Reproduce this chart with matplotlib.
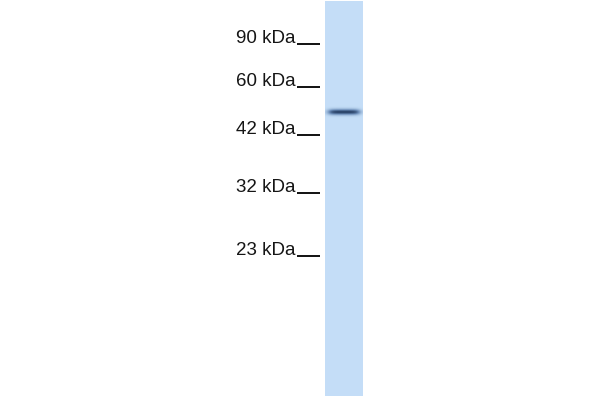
import numpy as np
import matplotlib
matplotlib.use('Agg')
from matplotlib import pyplot as plt
from matplotlib.colors import LinearSegmentedColormap

# Marker ladder (kDa) and where each tick sits on the blot (pixel rows)
marker_labels = ['90 kDa', '60 kDa', '42 kDa', '32 kDa', '23 kDa']
marker_y = [44, 87, 135, 193, 256]

# Single lane with one band
lane_x = (325, 363)
lane_y = (1, 396)
band_y = 112
band_x = (329, 359)
band_strength = 0.9

fig = plt.figure(figsize=(6, 4), dpi=100)
ax = fig.add_axes([0, 0, 1, 1])
ax.set_xlim(0, 600)
ax.set_ylim(400, 0)
ax.axis('off')

# lane image: pale blue background + dark band
yy, xx = np.mgrid[lane_y[0]:lane_y[1], lane_x[0]:lane_x[1]] + 0.5
band = np.exp(-((yy - band_y) / 2.8) ** 2)
edge = 1 / (1 + np.exp(-(xx - band_x[0]) / 2.0)) * 1 / (1 + np.exp((xx - band_x[1]) / 2.0))
band = band * edge * band_strength
cmap = LinearSegmentedColormap.from_list(
    'blot', [(0.77, 0.87, 0.97), (0.42, 0.55, 0.72), (0.10, 0.19, 0.33)])
ax.imshow(band, cmap=cmap, vmin=0, vmax=1, interpolation='bilinear',
          extent=(lane_x[0], lane_x[1], lane_y[1], lane_y[0]), aspect='auto')

for lab, y in zip(marker_labels, marker_y):
    ax.text(296, y - 1, lab, ha='right', va='baseline', fontsize=13.5,
            family='Liberation Sans', color='#151515')
    ax.plot([297, 320], [y, y], color='#111111', lw=1.4, solid_capstyle='butt')

fig.savefig('out.png', dpi=100)
